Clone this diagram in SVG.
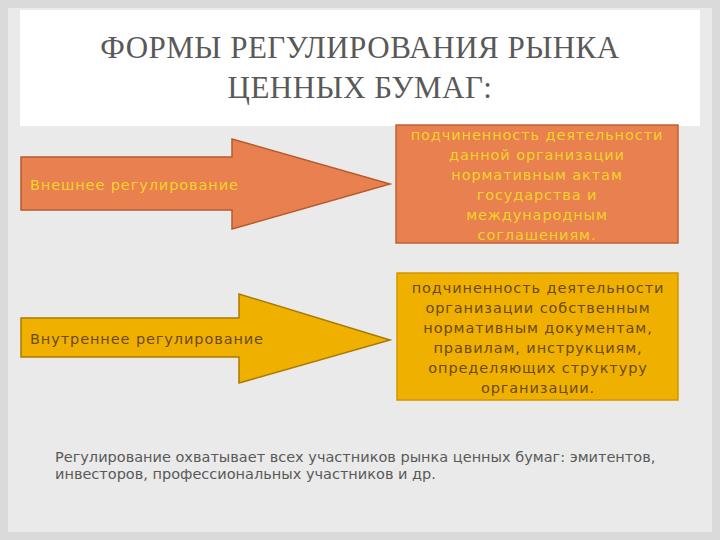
<svg xmlns="http://www.w3.org/2000/svg" width="720" height="540" viewBox="0 0 720 540">
<style>
.t{font-family:"DejaVu Sans","Liberation Sans",sans-serif;font-size:14.5px;letter-spacing:0.9px}
.n{font-family:"DejaVu Sans","Liberation Sans",sans-serif;font-size:14.5px;fill:#595959}
.h{font-family:"Liberation Serif",serif;font-size:31px;fill:#595959;text-anchor:middle;letter-spacing:0.5px}
.y{fill:#F6D32A}.d{fill:#6B4A10}
.c{text-anchor:middle}
</style>
<rect width="720" height="540" fill="#DADADA"/>
<rect x="8" y="8" width="704" height="524" fill="#EAEAEA"/>
<rect x="20" y="10" width="680" height="116" fill="#FFFFFF"/>
<g id="title"><text class="h" x="360" y="58">ФОРМЫ РЕГУЛИРОВАНИЯ РЫНКА</text><text class="h" x="360" y="98">ЦЕННЫХ БУМАГ:</text></g>
<g id="arrow1"><polygon points="21,157 232,157 232,139 390,184 232,229 232,210 21,210" fill="#E8804F" stroke="#B85A2C" stroke-width="1.5"/><text class="t y" x="30" y="190">Внешнее регулирование</text></g>
<g id="box1"><rect x="396" y="125" width="282" height="118" fill="#E8804F" stroke="#C0612E" stroke-width="1.5"/>
<text class="t y c" x="537" y="140">подчиненность деятельности</text><text class="t y c" x="537" y="160">данной организации</text><text class="t y c" x="537" y="180">нормативным актам</text><text class="t y c" x="537" y="200">государства и</text><text class="t y c" x="537" y="220">международным</text><text class="t y c" x="537" y="240">соглашениям.</text></g>
<g id="arrow2"><polygon points="21,318 239,318 239,294 390,340 239,383 239,357 21,357" fill="#F0B000" stroke="#A87A00" stroke-width="1.5"/><text class="t d" x="30" y="344">Внутреннее регулирование</text></g>
<g id="box2"><rect x="397" y="273" width="281" height="127" fill="#F0B000" stroke="#D19600" stroke-width="1.5"/>
<text class="t d c" x="538" y="293">подчиненность деятельности</text><text class="t d c" x="538" y="313">организации собственным</text><text class="t d c" x="538" y="333">нормативным документам,</text><text class="t d c" x="538" y="353">правилам, инструкциям,</text><text class="t d c" x="538" y="373">определяющих структуру</text><text class="t d c" x="538" y="393">организации.</text></g>
<g id="connectors"/>
<g id="note"><text class="n" x="55" y="462">Регулирование охватывает всех участников рынка ценных бумаг: эмитентов,</text><text class="n" x="55" y="479">инвесторов, профессиональных участников и др.</text></g>
</svg>
